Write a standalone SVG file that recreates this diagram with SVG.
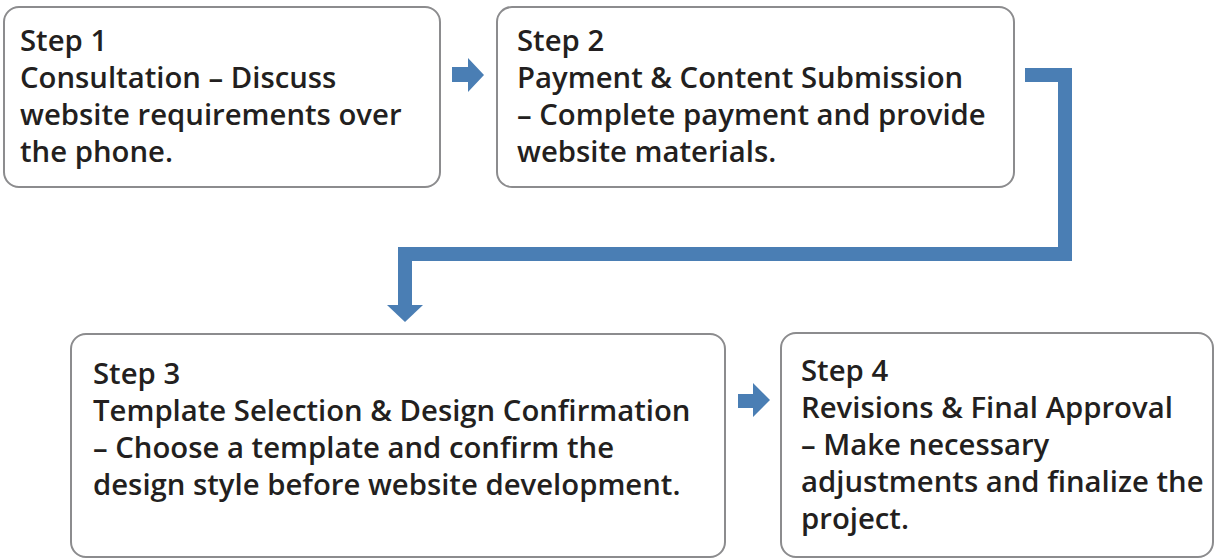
<svg xmlns="http://www.w3.org/2000/svg" width="1216" height="559" viewBox="0 0 1216 559">
<style>
.box{fill:#fff;stroke:#8c8c8e;stroke-width:2}
.t{font-family:"Open Sans","Noto Sans",sans-serif;font-weight:600;font-size:29.3px;fill:#231f20}
.arr{fill:#4a7eb4}
.conn{fill:none;stroke:#4a7eb4;stroke-width:14}
</style>
<rect width="1216" height="559" fill="#fff"/>
<g id="step1">
<rect class="box" x="4" y="7" width="436" height="180" rx="15"/>
<text class="t" x="20" y="51">Step 1</text>
<text class="t" x="20" y="88">Consultation – Discuss</text>
<text class="t" x="20" y="125">website requirements over</text>
<text class="t" x="20" y="162">the phone.</text>
</g>
<g id="step2">
<rect class="box" x="497" y="7" width="517" height="180" rx="15"/>
<text class="t" x="517" y="51">Step 2</text>
<text class="t" x="517" y="88">Payment &amp; Content Submission</text>
<text class="t" x="517" y="125">– Complete payment and provide</text>
<text class="t" x="517" y="162">website materials.</text>
</g>
<g id="step3">
<rect class="box" x="71" y="334" width="654" height="223" rx="15"/>
<text class="t" x="93" y="384">Step 3</text>
<text class="t" x="93" y="421">Template Selection &amp; Design Confirmation</text>
<text class="t" x="93" y="458">– Choose a template and confirm the</text>
<text class="t" x="93" y="495">design style before website development.</text>
</g>
<g id="step4">
<rect class="box" x="781" y="333" width="432" height="224" rx="15"/>
<text class="t" x="801" y="381">Step 4</text>
<text class="t" x="801" y="418">Revisions &amp; Final Approval</text>
<text class="t" x="801" y="455">– Make necessary</text>
<text class="t" x="801" y="492">adjustments and finalize the</text>
<text class="t" x="801" y="529">project.</text>
</g>
<g id="connectors">
<polygon class="arr" points="452,67 468,67 468,58 484,75 468,92 468,82 452,82"/>
<path class="conn" d="M1025,75 H1065 V254 H405 V306"/>
<polygon class="arr" points="387,305 423,305 405,322"/>
<polygon class="arr" points="738,394 753,394 753,383 770,400 753,417 753,408 738,408"/>
</g>
</svg>
